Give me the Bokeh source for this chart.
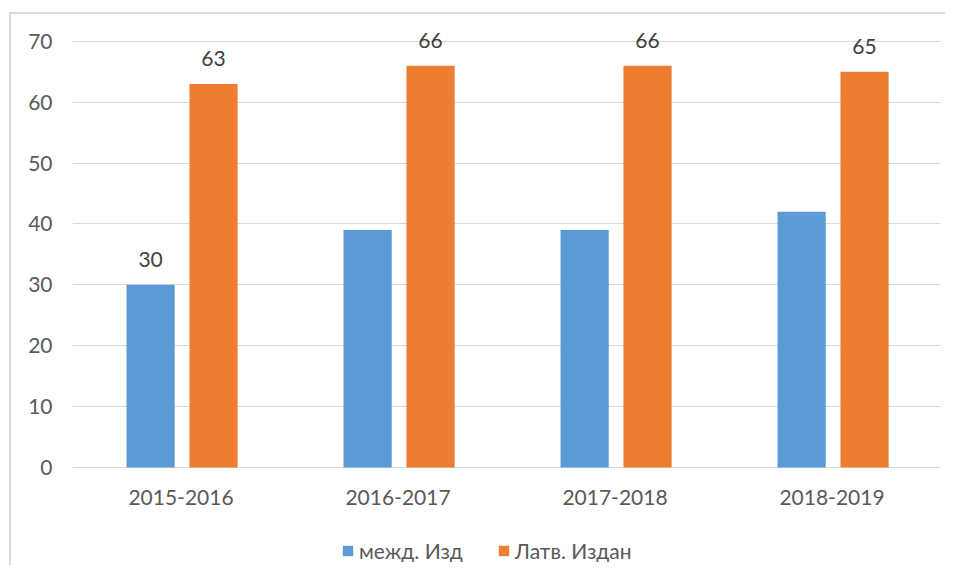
from bokeh.plotting import figure
from bokeh.models import ColumnDataSource, FactorRange, Range1d, Legend, LegendItem
from bokeh.transform import dodge
from bokeh.core.properties import value
from bokeh.embed import file_html
from bokeh.resources import INLINE

categories = ["2015-2016", "2016-2017", "2017-2018", "2018-2019"]
intl = [30, 39, 39, 42]
latv = [63, 66, 66, 65]
intl_labels = ["30", "", "", ""]
latv_labels = ["63", "66", "66", "65"]
series_names = ["межд. Изд", "Латв. Издан"]
colors = ["#5B9BD5", "#ED7D31"]
y_ticks = [0, 10, 20, 30, 40, 50, 60, 70]

src = ColumnDataSource(dict(cat=categories, intl=intl, latv=latv,
                            intl_lbl=intl_labels, latv_lbl=latv_labels))

FONT = "Lato"
FS = "21px"
p = figure(width=945, height=565, output_backend="svg", toolbar_location=None,
           x_range=FactorRange(*categories, range_padding=0), y_range=Range1d(-15.6, 74.4),
           x_axis_location=None,
           min_border_left=72, min_border_right=5, min_border_top=14, min_border_bottom=3)
p.outline_line_color = None
p.background_fill_color = "white"
p.border_fill_alpha = 0
p.styles = {
    "background-color": "white",
    "background-image": "linear-gradient(#d9d9d9, #d9d9d9), linear-gradient(#d9d9d9, #d9d9d9)",
    "background-size": "2px 100%, 100% 2px",
    "background-position": "9px 12px, 9px 12px",
    "background-repeat": "no-repeat",
}

r1 = p.vbar(x=dodge("cat", -0.14, range=p.x_range), top="intl", width=0.222, source=src,
            fill_color=colors[0], line_color=None)
r2 = p.vbar(x=dodge("cat", 0.15, range=p.x_range), top="latv", width=0.222, source=src,
            fill_color=colors[1], line_color=None)

for off, col, lbl in [(-0.14, "intl", "intl_lbl"), (0.15, "latv", "latv_lbl")]:
    p.text(x=dodge("cat", off, range=p.x_range), y=col, text=lbl, source=src,
           text_align="center", text_baseline="bottom", y_offset=-18,
           text_font=value(FONT), text_font_size=FS, text_color="#404040")

# category labels under the baseline
p.text(x="cat", y=0, text="cat", source=src, text_align="center", text_baseline="middle",
       y_offset=30, text_font=value(FONT), text_font_size=FS, text_color="#595959")

p.yaxis.ticker = y_ticks
p.ygrid.ticker = y_ticks
p.xgrid.grid_line_color = None
p.ygrid.grid_line_color = "#d9d9d9"
p.ygrid.grid_line_width = 1

ax = p.yaxis
ax.axis_line_color = None
ax.major_tick_line_color = None
ax.minor_tick_line_color = None
ax.major_tick_out = 0
ax.major_label_text_font = FONT
ax.major_label_text_font_size = FS
ax.major_label_text_color = "#595959"
ax.major_label_standoff = 20

legend = Legend(items=[LegendItem(label=series_names[0], renderers=[r1]),
                       LegendItem(label=series_names[1], renderers=[r2])],
                orientation="horizontal", location=(269, -1),
                glyph_width=13, glyph_height=13, label_text_font=FONT,
                label_text_font_size=FS, label_text_color="#595959",
                spacing=34, padding=0, margin=0, border_line_color=None,
                background_fill_alpha=0, label_standoff=5, label_height=16)
p.add_layout(legend, "center")

open("out.html", "w").write(file_html(p, INLINE))
